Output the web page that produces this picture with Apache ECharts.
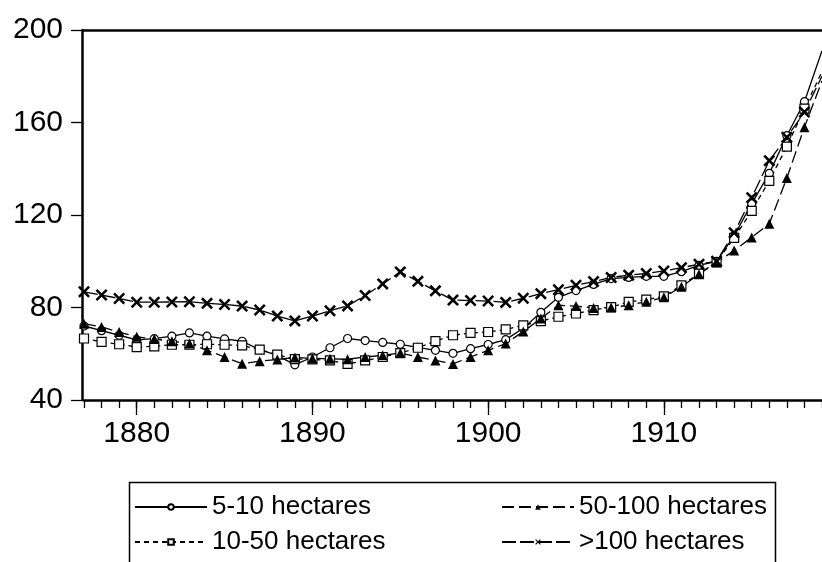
<!DOCTYPE html>
<html>
<head>
<meta charset="utf-8">
<script src="https://cdn.jsdelivr.net/npm/echarts@6/dist/echarts.min.js"></script>
<style>html,body{margin:0;padding:0;background:#fff;}#c{width:822px;height:562px;}</style>
</head>
<body>
<div id="c"></div>
<script>
const years = ['1877','1878','1879','1880','1881','1882','1883','1884','1885','1886','1887','1888','1889','1890','1891','1892','1893','1894','1895','1896','1897','1898','1899','1900','1901','1902','1903','1904','1905','1906','1907','1908','1909','1910','1911','1912','1913','1914','1915','1916','1917','1918','1919'];
const yTicks = [40, 80, 120, 160, 200];
const s5_10 = [72,70,68,66,66.5,67.6,69,67.6,66.4,65.4,61.8,59.3,55.2,58.6,62.6,66.6,65.7,64.9,64.1,62.8,61.5,60.2,62.2,64,66.1,71,77.9,84.4,87.3,90,92.5,93,93.5,93.5,95.5,98.2,100,111,124.9,138,154.3,169,191];
const s10_50 = [66.6,65.1,64.1,62.9,63.2,63.9,63.9,64.1,63.9,63.6,61.8,59.6,57.7,57.6,57.1,55.6,57.1,58.6,60.3,62.6,65.5,68,69,69.4,70.5,72.3,74.1,76,77.4,78.9,80.2,82.4,83.4,84.8,89.6,94.6,99.6,110.1,121.8,134.8,149.6,166,182];
const s50_100 = [73,71.6,69.4,67.3,66.4,65.4,64.4,61.5,58.6,55.7,56.8,57.5,58.4,58,57.8,57.6,58.6,59.3,60.3,58.6,57.1,55.6,58.6,61.5,64.4,69.6,75.2,81,80.6,79.8,80,81,82.5,84.4,89,94.4,99.5,104.6,110.3,116.2,136,158,178];
const s100 = [86.8,85.4,83.9,82.3,82.3,82.4,82.5,81.8,81.3,80.6,78.9,76.3,74.2,76.3,78.6,80.7,85.2,90.2,95.4,91.3,87.2,83.2,83,82.8,82.2,84,86,87.7,89.6,91.2,93,94,94.7,95.8,97.2,98.7,100,112.3,127.5,143.5,153.6,164.5,180];
const names = ['5-10 hectares','10-50 hectares','50-100 hectares','>100 hectares'];

const XSYM = 'path://M0,1.5 L1.5,0 L5,3.5 L8.5,0 L10,1.5 L6.5,5 L10,8.5 L8.5,10 L5,6.5 L1.5,10 L0,8.5 L3.5,5 Z';

function items(arr){
  return arr.map((v,i)=> i === arr.length-1 ? {value:v, symbol:'none'} : v);
}
function mk(name, arr, symbol, size, fill, dash){
  return {
    name: name, type:'line', data: items(arr), xAxisIndex:0, yAxisIndex:0,
    symbol: symbol, symbolSize: size, showAllSymbol: true, symbolKeepAspect: true,
    lineStyle: {color:'#000', width:1.3, type: dash},
    itemStyle: {color: fill, borderColor:'#000', borderWidth: symbol==='triangle' || symbol===XSYM ? 0 : 1.2},
    emphasis: {disabled:true}, animation:false, clip:true
  };
}

const chart = echarts.init(document.getElementById('c'), null, {renderer:'canvas'});
const FONT = 'Liberation Sans';
chart.setOption({
  backgroundColor:'#fff',
  animation:false,
  grid:{left:84, right:0, top:30, bottom:162, containLabel:false},
  xAxis:[
    {type:'category', position:'bottom', data: years, boundaryGap:false,
     axisLine:{show:true, lineStyle:{color:'#000', width:2.5}},
     axisTick:{show:true, interval:0, length:8, lineStyle:{color:'#000', width:1.3}},
     axisLabel:{interval:(i,v)=> Number(v)%10===0, color:'#000', fontFamily:FONT, fontSize:30, margin:19},
     splitLine:{show:false}},
    {type:'category', position:'bottom', data: years, boundaryGap:false,
     axisLine:{show:false},
     axisTick:{show:true, interval:(i,v)=> Number(v)%10===0, length:15, lineStyle:{color:'#000', width:1.3}},
     axisLabel:{show:false}, splitLine:{show:false}},
    {type:'category', position:'top', data: years, boundaryGap:false,
     axisLine:{show:true, lineStyle:{color:'#000', width:2.5}},
     axisTick:{show:false}, axisLabel:{show:false}, splitLine:{show:false}}
  ],
  yAxis:{type:'value', min:yTicks[0], max:yTicks[yTicks.length-1], interval:40, offset:2,
    axisLine:{show:true, lineStyle:{color:'#000', width:2.5}},
    axisTick:{show:true, length:11, lineStyle:{color:'#000', width:1.3}},
    axisLabel:{color:'#000', fontFamily:FONT, fontSize:30, margin:19},
    splitLine:{show:false}},
  legend:[
    {data:[names[0], names[1]], orient:'vertical', left:134, top:494, padding:0, itemGap:9,
     itemWidth:72, itemHeight:7, textStyle:{color:'#000', fontFamily:FONT, fontSize:26}, selectedMode:false},
    {data:[names[2], names[3]], orient:'vertical', left:501, top:494, padding:0, itemGap:9,
     itemWidth:72, itemHeight:7, textStyle:{color:'#000', fontFamily:FONT, fontSize:26}, selectedMode:false}
  ],
  graphic:[{type:'rect', left:127, top:480, shape:{width:646, height:100}, style:{fill:'none', stroke:'#000', lineWidth:1.5}, silent:true}],
  series:[
    mk(names[0], s5_10, 'circle', 8, '#fff', 'solid'),
    mk(names[1], s10_50, 'rect', 9, '#fff', [5,4]),
    mk(names[2], s50_100, 'triangle', 10, '#000', [12,5]),
    mk(names[3], s100, XSYM, 12, '#000', [14,4])
  ]
});
</script>
</body>
</html>
